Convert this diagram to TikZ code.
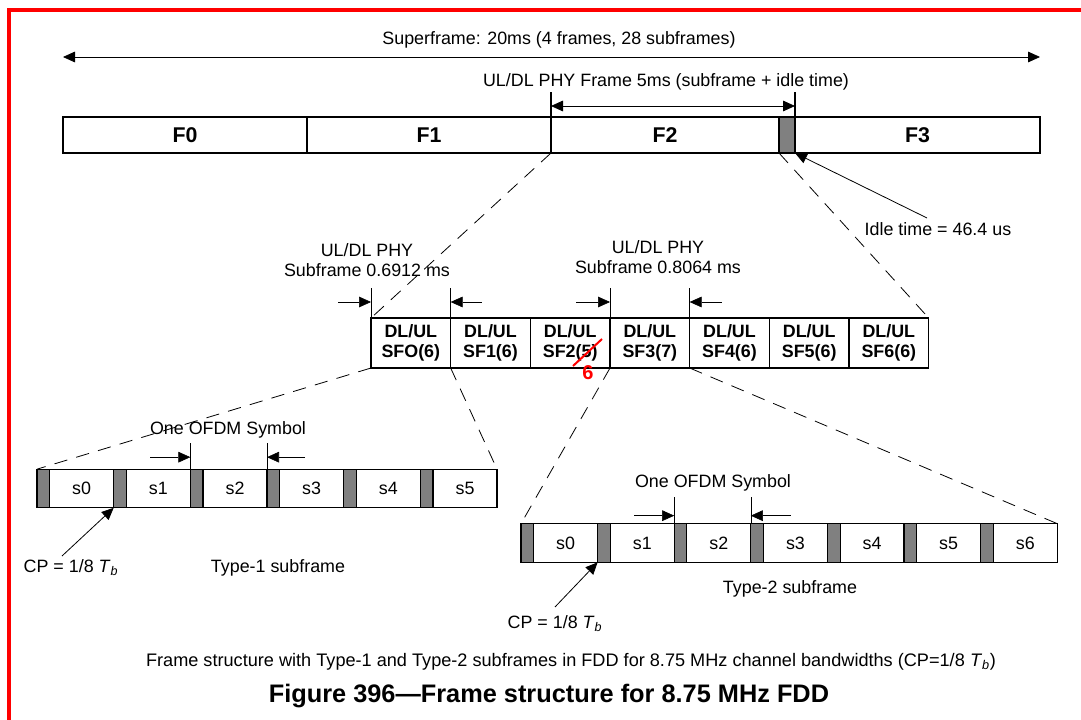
\documentclass[tikz,border=0pt]{standalone}
\usepackage{fontspec}
\setmainfont{Liberation Sans}
\usetikzlibrary{positioning, arrows.meta}

\begin{document}
\begin{tikzpicture}[x=0.75pt, y=-0.75pt, >={Triangle[length=9pt,width=8pt]},
        font=\fontsize{13.4}{15}\selectfont,
        frm/.style={draw, line width=0.8pt, outer sep=0pt, inner sep=0pt, minimum height=27pt, font=\fontsize{16}{18}\selectfont\bfseries},
        idlebox/.style={frm, fill=gray, minimum width=12pt},
        sfbox/.style={draw, line width=0.8pt, outer sep=0pt, inner sep=0pt, minimum width=59.75pt, minimum height=37.5pt, align=center, font=\fontsize{13.4}{15}\selectfont\bfseries},
        cp/.style={draw, fill=gray, line width=0.8pt, outer sep=0pt, inner sep=0pt, minimum width=9.5pt, minimum height=29pt},
        sym/.style={draw, line width=0.8pt, outer sep=0pt, inner sep=0pt, minimum width=48pt, minimum height=29pt},
        zoomline/.style={dash pattern=on 10pt off 7pt, line width=0.6pt}]
    \path[use as bounding box] (0,0) rectangle (1081,720);
    \draw[red, line width=3pt] (9,720) -- (9,10) -- (1081,10);

    \node[frm, minimum width=183pt, anchor=north west] (f0) at (63,117) {F0};
    \node[frm, minimum width=183pt, right=0pt of f0] (f1) {F1};
    \node[frm, minimum width=171pt, right=0pt of f1] (f2) {F2};
    \node[idlebox, right=0pt of f2] (idle) {};
    \node[frm, minimum width=183.75pt, right=0pt of idle] (f3) {F3};

    \node (superlbl) at (559,40) {Superframe: 20ms (4 frames, 28 subframes)};
    \draw[<->, line width=0.6pt] (f0.west |- 0,57) -- (f3.east |- 0,57);
    \node (framelbl) at (666,82) {UL/DL PHY Frame 5ms (subframe + idle time)};
    \draw[line width=0.8pt] (f2.north west) -- ++(0,-25);
    \draw[line width=0.8pt] (idle.north east) -- ++(0,-25);
    \draw[<->, line width=0.6pt] (f2.north west) ++(0,-11) -- ++(244,0);

    \node[anchor=west] (idlelbl) at (860,229) {Idle time = 46.4 us};
    \coordinate (idlefoot) at (927,218);
    \draw[->, line width=0.6pt] (idlefoot) -- (idle.south east);

    \node[sfbox, anchor=north west] (sf0) at (371,318) {DL/UL\\SFO(6)};
    \foreach \i/\n in {1/6,2/5,3/7,4/6,5/6,6/6} {
        \pgfmathtruncatemacro\prev{\i-1}
        \node[sfbox, right=0pt of sf\prev] (sf\i) {DL/UL\\SF\i(\n)};
    }
    \draw[zoomline] (f2.south west) -- (sf0.north west);
    \draw[zoomline] (idle.south west) -- (sf6.north east);

    \node[align=center] (phyA) at (367,260) {UL/DL PHY\\Subframe 0.6912 ms};
    \node[align=center] (phyB) at (658,257) {UL/DL PHY\\Subframe 0.8064 ms};
    \draw (sf0.north west) -- ++(0,-30);
    \draw[->] (sf0.north west) ++(-33,-16) -- ++(33,0);
    \draw (sf1.north west) -- ++(0,-30);
    \draw[->] (sf1.north west) ++(31,-16) -- ++(-31,0);
    \draw (sf3.north west) -- ++(0,-30);
    \draw[->] (sf3.north west) ++(-34,-16) -- ++(34,0);
    \draw (sf4.north west) -- ++(0,-30);
    \draw[->] (sf4.north west) ++(32,-16) -- ++(-32,0);

    \draw[red, line width=1.5pt] (573,366) -- (602,339);
    \node[red, font=\fontsize{15}{17}\selectfont\bfseries] (fix) at (588,373) {6};

    \foreach \i in {0,...,5} {
        \node[cp, anchor=west] (cpa\i) at ({37+76.67*\i},488.5) {};
        \node[sym, right=0pt of cpa\i] (sa\i) {s\i};
    }
    \foreach \i in {0,...,6} {
        \node[cp, anchor=west] (cpb\i) at ({521+76.6*\i},543) {};
        \node[sym, right=0pt of cpb\i] (sb\i) {s\i};
    }
    \draw[zoomline] (sf0.south west) -- (cpa0.north west);
    \draw[zoomline] (sf0.south east) -- (sa5.north east);
    \draw[zoomline] (sf3.south west) -- (cpb0.north west);
    \draw[zoomline] (sf3.south east) -- (sb6.north east);

    \node (ofdmA) at (228,430) {One OFDM Symbol};
    \draw (cpa2.north west) -- ++(0,-26);
    \draw[->] (cpa2.north west) ++(-40,-12) -- ++(40,0);
    \draw (cpa3.north west) -- ++(0,-26);
    \draw[->] (cpa3.north west) ++(38,-12) -- ++(-38,0);
    \node (ofdmB) at (713,483) {One OFDM Symbol};
    \draw (cpb2.north west) -- ++(0,-27);
    \draw[->] (cpb2.north west) ++(-40,-8) -- ++(40,0);
    \draw (cpb3.north west) -- ++(0,-27);
    \draw[->] (cpb3.north west) ++(40,-8) -- ++(-40,0);

    \node (cpA) at (71,568) {CP = 1/8 \textit{T}\textsubscript{\textit{b}}};
    \coordinate (cpAfoot) at (62,556);
    \draw[->, line width=0.6pt] (cpAfoot) -- (cpa1.south west);
    \node (typeA) at (278,568) {Type-1 subframe};
    \node (cpB) at (555,624) {CP = 1/8 \textit{T}\textsubscript{\textit{b}}};
    \coordinate (cpBfoot) at (555,607);
    \draw[->, line width=0.6pt] (cpBfoot) -- (cpb1.south west);
    \node (typeB) at (790,589) {Type-2 subframe};

    \node[font=\fontsize{13.6}{15}\selectfont] (caption) at (571,662) {Frame structure with Type-1 and Type-2 subframes in FDD for 8.75 MHz channel bandwidths (CP=1/8 \textit{T}\textsubscript{\textit{b}})};
    \node[font=\fontsize{19}{22}\selectfont\bfseries] (title) at (549,696) {Figure 396---Frame structure for 8.75 MHz FDD};
\end{tikzpicture}
\end{document}
